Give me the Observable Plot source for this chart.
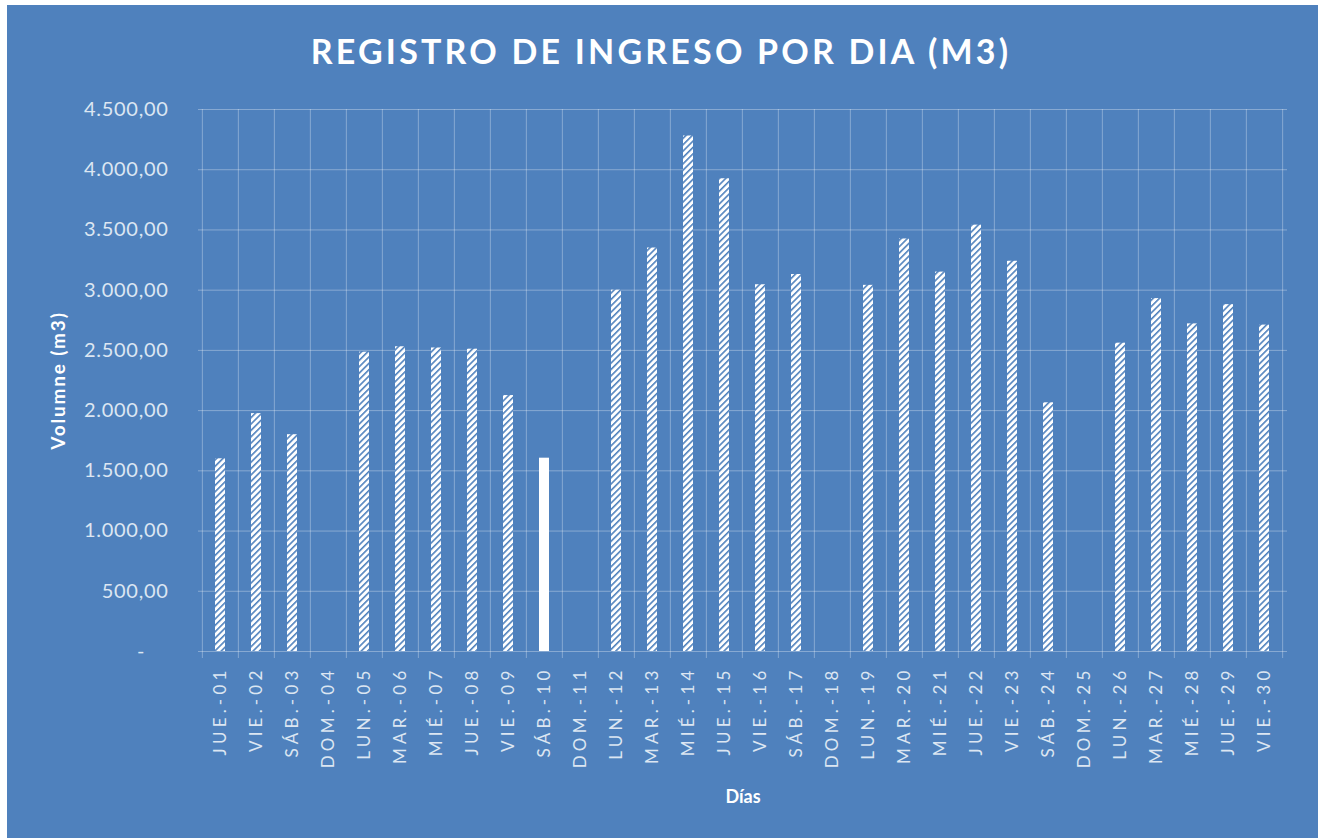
<!DOCTYPE html>
<html>
<head>
<meta charset="utf-8">
<script src="https://cdn.jsdelivr.net/npm/d3@7"></script>
<script src="https://cdn.jsdelivr.net/npm/@observablehq/plot@0.6"></script>
<style>
  html, body { margin: 0; padding: 0; background: #ffffff; }
  body { width: 1325px; height: 838px; overflow: hidden; position: relative; }
  #panel { position: absolute; left: 7px; top: 5px; width: 1311px; height: 833px; background: #4f81bd; }
  #panel svg { display: block; }
  g[aria-label="x-axis tick label"] text { letter-spacing: 4.2px; }
  g[aria-label="y-axis tick label"] text { letter-spacing: 0.7px; }
</style>
</head>
<body>
<div id="panel"></div>
<script>
// ---- data ----
const days = ["JUE.-01","VIE.-02","SÁB.-03","DOM.-04","LUN.-05","MAR.-06","MIÉ.-07","JUE.-08","VIE.-09","SÁB.-10",
              "DOM.-11","LUN.-12","MAR.-13","MIÉ.-14","JUE.-15","VIE.-16","SÁB.-17","DOM.-18","LUN.-19","MAR.-20",
              "MIÉ.-21","JUE.-22","VIE.-23","SÁB.-24","DOM.-25","LUN.-26","MAR.-27","MIÉ.-28","JUE.-29","VIE.-30"];
const volumes = [1600, 1975, 1800, 0, 2485, 2530, 2520, 2510, 2125, 1605,
                 0, 3000, 3350, 4280, 3925, 3045, 3130, 0, 3040, 3425,
                 3150, 3540, 3240, 2065, 0, 2560, 2930, 2720, 2880, 2710];
const solidDays = ["SÁB.-10"];
const yTicks = [0, 500, 1000, 1500, 2000, 2500, 3000, 3500, 4000, 4500];
const titleText = "REGISTRO DE INGRESO POR DIA (M3)";
const yLabel = "Volumne (m3)";
const xLabel = "Días";

// ---- layout ----
const W = 1311, H = 833, mL = 191, mR = 31, mT = 104, mB = 187;
const step = (W - mL - mR) / days.length;
const frameCenter = mL + (W - mL - mR) / 2;
const blue = "#4f81bd";
const tickColor = "#dce6f2";

const data = days.map((d, i) => ({day: d, value: volumes[i]}));
const hatched = data.filter(d => !solidDays.includes(d.day));
const solid = data.filter(d => solidDays.includes(d.day));

const loc = d3.formatLocale({decimal: ",", thousands: ".", grouping: [3], currency: ["", ""]});
const f2 = loc.format(",.2f");
const yFmt = v => v === 0 ? "-\u00a0\u00a0\u00a0\u00a0" : f2(v);

const chart = Plot.plot({
  width: W, height: H,
  marginLeft: mL, marginRight: mR, marginTop: mT, marginBottom: mB,
  style: {background: "transparent", fontFamily: "Lato, 'Open Sans', sans-serif", overflow: "visible"},
  x: {domain: days, paddingInner: 0.72, paddingOuter: 0.36, align: 0.5, label: null},
  y: {domain: [0, 4500], label: null},
  marks: [
    Plot.ruleY(yTicks, {stroke: "white", strokeOpacity: 0.32}),
    Plot.ruleX(days, {x: d => d, dx: -step / 2, stroke: "white", strokeOpacity: 0.32, insetBottom: -7}),
    Plot.ruleX([days[days.length - 1]], {x: d => d, dx: step / 2, stroke: "white", strokeOpacity: 0.32, insetBottom: -7}),
    Plot.barY(hatched, {x: "day", y: "value", fill: "url(#hatch)"}),
    Plot.barY(solid, {x: "day", y: "value", fill: "white"}),
    Plot.axisY({ticks: yTicks, tickFormat: yFmt, tickSize: 0, tickPadding: 30, fontSize: 20, fill: tickColor, label: null}),
    Plot.axisX({tickRotate: -90, tickSize: 0, tickPadding: 15, fontSize: 17, fill: tickColor, label: null}),
    Plot.text([titleText], {text: d => d, frameAnchor: "top", textAnchor: "middle", dx: W / 2 - frameCenter - 2, dy: -56, fontSize: 34, fontWeight: "bold", fill: "white", lineAnchor: "middle"}),
    Plot.text([yLabel], {text: d => d, frameAnchor: "left", textAnchor: "middle", dx: -140, dy: 0, rotate: -90, fontSize: 19, fontWeight: "bold", fill: "white", lineAnchor: "middle"}),
    Plot.text([xLabel], {text: d => d, frameAnchor: "bottom", textAnchor: "middle", dy: 146, fontSize: 18, fontWeight: "bold", fill: "white", lineAnchor: "middle"})
  ]
});

// hatch pattern definition
const svg = d3.select(chart);
const defs = svg.insert("defs", ":first-child");
const pat = defs.append("pattern")
  .attr("id", "hatch")
  .attr("patternUnits", "userSpaceOnUse")
  .attr("width", 4.5).attr("height", 4.5)
  .attr("patternTransform", "rotate(45)");
pat.append("rect").attr("width", 4.5).attr("height", 4.5).attr("fill", "white");
pat.append("rect").attr("width", 1.6).attr("height", 4.5).attr("fill", blue);

// letter spacing for title and y label
svg.selectAll("text").filter(function() { return this.textContent === titleText; })
  .style("letter-spacing", "3.2px");
svg.selectAll("text").filter(function() { return this.textContent === yLabel; })
  .style("letter-spacing", "1.8px");

document.getElementById("panel").appendChild(chart);
</script>
</body>
</html>
